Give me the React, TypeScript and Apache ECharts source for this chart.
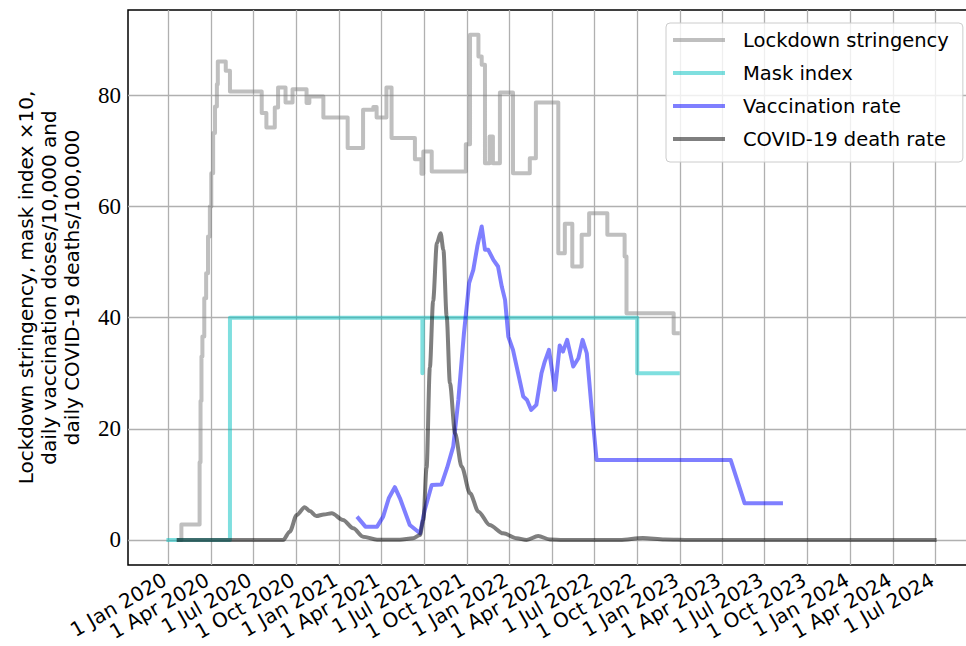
import { useEffect, useRef } from 'react';
import * as echarts from 'echarts';

const DAY = 86400000;
const toMs = (s: string) => Date.parse(s + 'T00:00:00Z');
const MONTHS = ['Jan', 'Feb', 'Mar', 'Apr', 'May', 'Jun', 'Jul', 'Aug', 'Sep', 'Oct', 'Nov', 'Dec'];

const tickDates = [
  '2020-01-01', '2020-04-01', '2020-07-01', '2020-10-01',
  '2021-01-01', '2021-04-01', '2021-07-01', '2021-10-01',
  '2022-01-01', '2022-04-01', '2022-07-01', '2022-10-01',
  '2023-01-01', '2023-04-01', '2023-07-01', '2023-10-01',
  '2024-01-01', '2024-04-01', '2024-07-01',
];
const yTicks = [0, 20, 40, 60, 80];

const seriesNames = ['Lockdown stringency', 'Mask index', 'Vaccination rate', 'COVID-19 death rate'];

const lockdown: [string, number][] = [
  ['2020-01-19', 0], ['2020-01-29', 2.8], ['2020-03-08', 14], ['2020-03-10', 25],
  ['2020-03-12', 33], ['2020-03-14', 36.6], ['2020-03-18', 43.5], ['2020-03-22', 48],
  ['2020-03-26', 54.6], ['2020-03-30', 60], ['2020-04-02', 66], ['2020-04-06', 73.2],
  ['2020-04-10', 78], ['2020-04-14', 82], ['2020-04-16', 86.1], ['2020-05-03', 84.4],
  ['2020-05-12', 80.7], ['2020-07-19', 76.8], ['2020-07-29', 74.2], ['2020-08-16', 77.8],
  ['2020-08-23', 81.4], ['2020-09-08', 78.7], ['2020-09-23', 81.1], ['2020-10-23', 78.6],
  ['2020-10-29', 79.8], ['2020-11-28', 76.0], ['2021-01-19', 70.5], ['2021-02-21', 77.4],
  ['2021-03-15', 77.9], ['2021-03-22', 76.0], ['2021-04-12', 81.4], ['2021-04-23', 72.3],
  ['2021-06-12', 68.5], ['2021-06-26', 65.9], ['2021-06-30', 69.9], ['2021-07-18', 66.3],
  ['2021-09-29', 71.2], ['2021-10-08', 90.9], ['2021-10-26', 87.0], ['2021-11-02', 85.5],
  ['2021-11-09', 67.8], ['2021-11-19', 72.6], ['2021-11-26', 67.8], ['2021-12-11', 80.5],
  ['2022-01-08', 66.0], ['2022-02-13', 68.7], ['2022-02-26', 78.7], ['2022-04-15', 51.6],
  ['2022-04-29', 56.9], ['2022-05-15', 49.2], ['2022-06-04', 54.9], ['2022-06-20', 58.8],
  ['2022-07-29', 54.9], ['2022-09-04', 51.0], ['2022-09-08', 40.8], ['2022-12-18', 37.2],
  ['2022-12-31', 37.2],
];

const maskIndex: [string, number][] = [
  ['2019-12-28', 0], ['2020-05-12', 40], ['2021-06-28', 30], ['2021-06-29', 40],
  ['2022-10-01', 30], ['2022-12-31', 30],
];

const vaccination: [string, number][] = [
  ['2021-02-08', 4.2], ['2021-02-26', 2.4], ['2021-03-23', 2.4], ['2021-04-05', 4.2],
  ['2021-04-17', 7.5], ['2021-04-30', 9.5], ['2021-05-11', 7.5], ['2021-06-01', 2.7],
  ['2021-06-23', 1.2], ['2021-07-03', 5.4], ['2021-07-18', 9.9], ['2021-08-08', 10],
  ['2021-08-20', 13], ['2021-09-02', 16.8], ['2021-09-13', 25.2], ['2021-09-25', 37.2],
  ['2021-10-06', 46.2], ['2021-10-15', 48.6], ['2021-10-24', 53], ['2021-11-02', 56.4],
  ['2021-11-09', 52.2], ['2021-11-16', 52.2], ['2021-11-27', 50.4], ['2021-12-07', 49.2],
  ['2021-12-15', 45.6], ['2021-12-22', 43.2], ['2021-12-29', 36.6], ['2022-01-08', 34.2],
  ['2022-01-19', 30], ['2022-01-30', 25.8], ['2022-02-07', 25.2], ['2022-02-16', 23.4],
  ['2022-02-27', 24.3], ['2022-03-10', 30], ['2022-03-17', 32.1], ['2022-03-26', 34.2],
  ['2022-04-08', 27], ['2022-04-18', 35], ['2022-04-25', 33.9], ['2022-05-04', 36],
  ['2022-05-17', 31.2], ['2022-05-28', 32.7], ['2022-06-06', 36], ['2022-06-15', 33.6],
  ['2022-06-25', 24], ['2022-07-06', 14.4], ['2023-04-19', 14.4], ['2023-05-19', 6.6],
  ['2023-08-09', 6.6],
];

const deathRate: [string, number][] = [
  ['2020-01-19', 0], ['2020-09-03', 0], ['2020-09-17', 1.5], ['2020-10-02', 4.5],
  ['2020-10-19', 5.9], ['2020-10-30', 5.2], ['2020-11-13', 4.3], ['2020-11-29', 4.6],
  ['2020-12-16', 4.8], ['2021-01-09', 3.6], ['2021-01-31', 2.1], ['2021-02-21', 0.6],
  ['2021-03-23', 0.05], ['2021-05-11', 0.05], ['2021-06-08', 0.3], ['2021-06-23', 0.9],
  ['2021-06-30', 3.6], ['2021-07-07', 13], ['2021-07-14', 31], ['2021-07-21', 43],
  ['2021-07-29', 53.4], ['2021-08-06', 55.2], ['2021-08-12', 52.2], ['2021-08-19', 40.2],
  ['2021-08-26', 28.2], ['2021-09-06', 19.2], ['2021-09-20', 13.2], ['2021-10-08', 8.4],
  ['2021-10-26', 5.1], ['2021-11-19', 2.7], ['2021-12-18', 1.2], ['2022-01-16', 0.3],
  ['2022-02-06', 0], ['2022-03-03', 0.7], ['2022-03-28', 0.1], ['2022-04-25', 0],
  ['2022-08-25', 0], ['2022-10-13', 0.35], ['2022-11-29', 0.1], ['2023-01-22', 0],
  ['2024-07-03', 0],
];

const colors = ['rgba(128,128,128,0.5)', 'rgba(0,191,191,0.5)', 'rgba(0,0,255,0.5)', 'rgba(0,0,0,0.5)'];

export default function App() {
  const ref = useRef<HTMLDivElement>(null);
  useEffect(() => {
    const chart = echarts.init(ref.current!, null, { renderer: 'svg' });
    const conv = (arr: [string, number][]) => arr.map(([d, v]) => [toMs(d), v]);
    const tickMs = tickDates.map(toMs);
    const origin = toMs('2020-01-01');
    const xMin = origin - 86.3 * DAY;
    const xMax = origin + 1712.2 * DAY;
    const fmt = (v: number) => {
      const d = new Date(v);
      return `${d.getUTCDate()} ${MONTHS[d.getUTCMonth()]} ${d.getUTCFullYear()}`;
    };
    const mk = (i: number, data: [string, number][], extra: any) => ({
      type: 'line',
      name: seriesNames[i],
      data: conv(data),
      showSymbol: false,
      symbol: 'none',
      lineStyle: { color: colors[i], width: 4, join: 'round' },
      itemStyle: { color: colors[i] },
      emphasis: { disabled: true },
      ...extra,
    });
    const option: any = {
      animation: false,
      grid: {
        left: 128, top: 10, width: 840, height: 555,
        show: true, borderColor: '#000', borderWidth: 1.5, backgroundColor: 'transparent',
        containLabel: false, outerBoundsMode: 'none',
      },
      xAxis: {
        type: 'value', min: xMin, max: xMax,
        axisLine: { show: false },
        axisTick: { show: false, customValues: tickMs },
        axisLabel: {
          customValues: tickMs, rotate: 30, formatter: fmt,
          fontFamily: 'DejaVu Sans', fontSize: 20, lineHeight: 16, color: '#000', margin: 11,
          padding: [0, 4, 0, 0],
        },
        splitLine: { show: true, lineStyle: { color: '#b0b0b0', width: 1.3 } },
      },
      yAxis: {
        type: 'value', min: -4.5, max: 95.35,
        axisLine: { show: false },
        axisTick: { show: false, customValues: yTicks },
        axisLabel: {
          customValues: yTicks, fontFamily: 'Liberation Serif', fontSize: 23, color: '#000', margin: 7,
        },
        splitLine: { show: true, lineStyle: { color: '#b0b0b0', width: 1.3 } },
        name: 'Lockdown stringency, mask index \u00d710,\ndaily vaccination doses/10,000 and\ndaily COVID-19 deaths/100,000',
        nameLocation: 'middle', nameRotate: 90, nameGap: 45,
        nameTextStyle: { fontFamily: 'DejaVu Sans', fontSize: 20, lineHeight: 23, color: '#000', align: 'center' },
      },
      legend: {
        orient: 'vertical', left: 666, top: 23,
        padding: [7, 14, 13, 7], itemGap: 13, itemWidth: 52, itemHeight: 4, icon: 'rect',
        backgroundColor: 'rgba(255,255,255,0.8)', borderColor: '#cccccc', borderWidth: 1, borderRadius: 4,
        itemStyle: { borderWidth: 0 },
        textStyle: { fontFamily: 'DejaVu Sans', fontSize: 19.5, lineHeight: 20, color: '#000', padding: [0, 0, 0, 13] },
        data: seriesNames,
      },
      series: [
        mk(0, lockdown, { step: 'end' }),
        mk(1, maskIndex, { step: 'end' }),
        mk(2, vaccination, {}),
        mk(3, deathRate, { smooth: 0.3, smoothMonotone: 'x' }),
      ],
    };
    chart.setOption(option);
    return () => chart.dispose();
  }, []);
  return <div ref={ref} style={{ position: 'absolute', left: 0, top: 0, width: 966, height: 646 }} />;
}
